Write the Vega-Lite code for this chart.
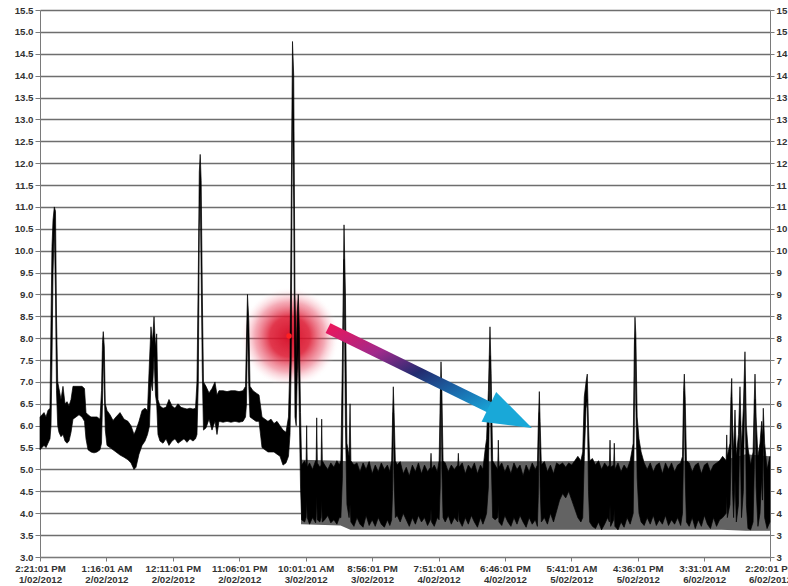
{
"$schema":"https://vega.github.io/schema/vega-lite/v6.json",
"width":730,"height":547,
"autosize":{"type":"none"},
"padding":{"left":40,"top":10,"right":18,"bottom":29},
"background":"white",
"config":{"view":{"stroke":null},"axis":{"labelFont":"Liberation Sans","labelFontSize":9.7,"labelFontWeight":"bold","labelColor":"#333333","domainColor":"#7a7a7a","tickColor":"#7a7a7a"}},
"datasets":{
"grey":[{"h":42.9,"glo":3.75,"ghi":5.22},{"h":49.4,"glo":3.72,"ghi":5.2},{"h":51.0,"glo":3.62,"ghi":5.18},{"h":112.0,"glo":3.62,"ghi":5.2},{"h":116.0,"glo":3.6,"ghi":5.35},{"h":119.98,"glo":3.6,"ghi":5.3}],
"band":[
{"h":0,"lo":5.45,"hi":6.2},{"h":0.33,"lo":5.5,"hi":6.25},{"h":0.66,"lo":5.55,"hi":6.3},{"h":0.99,"lo":5.5,"hi":6.2},{"h":1.31,"lo":5.6,"hi":6.35},{"h":1.64,"lo":5.7,"hi":6.4},{"h":1.81,"lo":6.0,"hi":8.4},{"h":1.97,"lo":7.5,"hi":10.1},{"h":2.14,"lo":9.5,"hi":10.7},{"h":2.35,"lo":10.5,"hi":11.0},{"h":2.55,"lo":9.0,"hi":10.9},{"h":2.71,"lo":6.8,"hi":8.5},{"h":2.91,"lo":6.0,"hi":7.0},
{"h":3.12,"lo":5.85,"hi":6.85},{"h":3.45,"lo":5.75,"hi":6.6},{"h":3.78,"lo":5.8,"hi":6.9},{"h":4.11,"lo":5.65,"hi":6.5},{"h":4.44,"lo":5.6,"hi":6.55},{"h":4.77,"lo":5.65,"hi":6.45},{"h":5.10,"lo":5.85,"hi":6.6},{"h":5.42,"lo":6.15,"hi":6.9},{"h":5.92,"lo":6.2,"hi":6.9},{"h":6.41,"lo":6.25,"hi":6.9},{"h":6.90,"lo":6.2,"hi":6.9},{"h":7.31,"lo":6.1,"hi":6.85},{"h":7.56,"lo":5.7,"hi":6.3},{"h":7.89,"lo":5.45,"hi":6.25},{"h":8.38,"lo":5.4,"hi":6.2},{"h":8.88,"lo":5.38,"hi":6.2},{"h":9.37,"lo":5.4,"hi":6.2},{"h":9.86,"lo":5.45,"hi":6.15},
{"h":10.11,"lo":5.6,"hi":6.8},{"h":10.27,"lo":6.5,"hi":7.9},{"h":10.40,"lo":7.7,"hi":8.15},{"h":10.57,"lo":6.8,"hi":7.8},{"h":10.73,"lo":5.9,"hi":6.5},
{"h":11.01,"lo":5.55,"hi":6.35},{"h":11.51,"lo":5.5,"hi":6.25},{"h":12.00,"lo":5.45,"hi":6.12},{"h":12.49,"lo":5.4,"hi":6.2},{"h":13.15,"lo":5.33,"hi":6.3},{"h":13.81,"lo":5.28,"hi":6.15},{"h":14.46,"lo":5.22,"hi":6.1},{"h":14.96,"lo":5.15,"hi":6.0},{"h":15.45,"lo":5.0,"hi":5.8},{"h":15.78,"lo":5.05,"hi":5.9},{"h":16.27,"lo":5.35,"hi":6.1},{"h":16.77,"lo":5.55,"hi":6.35},{"h":17.26,"lo":5.65,"hi":6.4},{"h":17.67,"lo":5.8,"hi":6.35},
{"h":18.00,"lo":6.0,"hi":7.5},{"h":18.24,"lo":7.0,"hi":8.26},{"h":18.49,"lo":6.8,"hi":7.9},{"h":18.74,"lo":7.6,"hi":8.49},{"h":18.98,"lo":6.7,"hi":7.8},{"h":19.18,"lo":6.5,"hi":8.1},{"h":19.39,"lo":5.8,"hi":6.6},
{"h":19.72,"lo":5.65,"hi":6.45},{"h":20.22,"lo":5.6,"hi":6.4},{"h":20.71,"lo":5.7,"hi":6.42},{"h":21.20,"lo":5.55,"hi":6.6},{"h":21.70,"lo":5.65,"hi":6.45},{"h":22.19,"lo":5.7,"hi":6.4},{"h":22.68,"lo":5.6,"hi":6.5},{"h":23.17,"lo":5.65,"hi":6.42},{"h":23.67,"lo":5.7,"hi":6.4},{"h":24.16,"lo":5.62,"hi":6.38},{"h":24.65,"lo":5.7,"hi":6.4},{"h":25.15,"lo":5.65,"hi":6.38},{"h":25.56,"lo":5.7,"hi":6.4},
{"h":25.80,"lo":5.8,"hi":7.0},{"h":26.02,"lo":7.0,"hi":9.5},{"h":26.18,"lo":10.5,"hi":11.8},{"h":26.33,"lo":11.4,"hi":12.2},{"h":26.49,"lo":9.5,"hi":11.6},{"h":26.68,"lo":7.2,"hi":9.0},{"h":26.87,"lo":5.9,"hi":7.0},
{"h":27.28,"lo":5.95,"hi":6.9},{"h":27.78,"lo":6.15,"hi":6.75},{"h":28.27,"lo":5.9,"hi":6.85},{"h":28.76,"lo":6.1,"hi":7.0},{"h":29.09,"lo":5.8,"hi":6.7},{"h":29.42,"lo":6.1,"hi":6.8},{"h":30.08,"lo":6.08,"hi":6.8},{"h":30.74,"lo":6.1,"hi":6.78},{"h":31.39,"lo":6.08,"hi":6.8},{"h":32.05,"lo":6.1,"hi":6.8},{"h":32.71,"lo":6.08,"hi":6.78},{"h":33.37,"lo":6.1,"hi":6.8},{"h":33.78,"lo":6.2,"hi":6.9},
{"h":33.94,"lo":6.5,"hi":8.0},{"h":34.10,"lo":8.3,"hi":9.0},{"h":34.32,"lo":6.9,"hi":8.4},{"h":34.52,"lo":6.2,"hi":6.9},
{"h":35.01,"lo":6.15,"hi":6.8},{"h":35.50,"lo":6.1,"hi":6.75},{"h":36.00,"lo":6.1,"hi":6.7},{"h":36.49,"lo":5.5,"hi":6.2},{"h":36.98,"lo":5.45,"hi":6.15},{"h":37.47,"lo":5.4,"hi":6.1},{"h":37.97,"lo":5.4,"hi":6.15},{"h":38.46,"lo":5.4,"hi":6.05},{"h":38.95,"lo":5.35,"hi":6.1},{"h":39.45,"lo":5.3,"hi":6.0},{"h":39.94,"lo":5.1,"hi":5.9},{"h":40.43,"lo":5.15,"hi":5.85},{"h":40.84,"lo":5.3,"hi":6.2},
{"h":41.09,"lo":5.8,"hi":7.5},{"h":41.29,"lo":7.5,"hi":11.0},{"h":41.50,"lo":13.5,"hi":14.78},{"h":41.70,"lo":11.0,"hi":14.0},{"h":41.91,"lo":6.2,"hi":9.0},{"h":42.11,"lo":6.0,"hi":7.5},{"h":42.29,"lo":7.2,"hi":8.6},{"h":42.45,"lo":7.8,"hi":9.0},{"h":42.62,"lo":6.3,"hi":8.2},{"h":42.82,"lo":4.6,"hi":6.3},
{"h":43.0,"lo":3.85,"hi":5.1},{"h":43.5,"lo":3.8,"hi":5.2},{"h":43.73,"lo":3.9,"hi":5.1},{"h":43.83,"lo":4.3,"hi":6.0},{"h":43.93,"lo":3.9,"hi":5.05},{"h":44.3,"lo":3.75,"hi":5.15},{"h":44.8,"lo":3.9,"hi":5.0},{"h":45.3,"lo":3.78,"hi":5.2},{"h":45.38,"lo":3.9,"hi":5.1},{"h":45.48,"lo":4.4,"hi":6.18},{"h":45.58,"lo":3.85,"hi":5.15},{"h":46.0,"lo":3.8,"hi":5.05},{"h":46.2,"lo":3.9,"hi":5.1},{"h":46.3,"lo":4.3,"hi":6.15},{"h":46.4,"lo":3.8,"hi":5.2},{"h":46.8,"lo":3.85,"hi":5.1},{"h":47.3,"lo":3.95,"hi":5.0},{"h":47.8,"lo":3.78,"hi":5.15},{"h":48.3,"lo":3.85,"hi":5.05},{"h":48.8,"lo":3.75,"hi":5.2},{"h":49.2,"lo":3.9,"hi":5.1},
{"h":49.45,"lo":3.9,"hi":5.2},{"h":49.7,"lo":4.8,"hi":7.5},{"h":49.97,"lo":9.8,"hi":10.59},{"h":50.2,"lo":6.0,"hi":9.0},{"h":50.45,"lo":4.2,"hi":5.6},{"h":50.8,"lo":3.9,"hi":5.3},{"h":50.96,"lo":4.2,"hi":6.5},{"h":51.1,"lo":3.8,"hi":5.2},
{"h":51.6,"lo":3.7,"hi":5.1},{"h":52.1,"lo":3.9,"hi":5.15},{"h":52.6,"lo":3.75,"hi":4.95},{"h":53.1,"lo":3.68,"hi":5.15},{"h":53.6,"lo":3.95,"hi":5.0},{"h":54.1,"lo":3.72,"hi":5.18},{"h":54.6,"lo":3.85,"hi":4.9},{"h":55.1,"lo":3.7,"hi":5.1},{"h":55.6,"lo":3.9,"hi":4.95},{"h":56.1,"lo":3.75,"hi":5.15},{"h":56.6,"lo":3.68,"hi":5.0},{"h":57.1,"lo":3.85,"hi":5.1},{"h":57.5,"lo":3.72,"hi":4.95},
{"h":57.8,"lo":3.85,"hi":5.2},{"h":57.95,"lo":4.5,"hi":6.2},{"h":58.07,"lo":6.3,"hi":6.89},{"h":58.2,"lo":4.8,"hi":6.3},{"h":58.4,"lo":3.9,"hi":5.2},
{"h":58.7,"lo":3.95,"hi":5.1},{"h":59.2,"lo":3.8,"hi":5.18},{"h":59.7,"lo":4.0,"hi":4.9},{"h":60.2,"lo":3.85,"hi":5.05},{"h":60.7,"lo":3.7,"hi":4.85},{"h":61.2,"lo":3.9,"hi":5.1},{"h":61.7,"lo":3.75,"hi":4.95},{"h":62.2,"lo":3.95,"hi":5.15},{"h":62.7,"lo":3.8,"hi":4.9},{"h":63.2,"lo":3.9,"hi":5.1},{"h":63.7,"lo":3.72,"hi":4.95},{"h":64.17,"lo":3.85,"hi":5.05},{"h":64.27,"lo":4.1,"hi":5.37},{"h":64.37,"lo":3.8,"hi":5.0},{"h":64.8,"lo":3.7,"hi":5.1},{"h":65.3,"lo":3.9,"hi":4.95},
{"h":65.6,"lo":3.85,"hi":5.2},{"h":65.78,"lo":4.6,"hi":6.6},{"h":65.91,"lo":6.9,"hi":7.46},{"h":66.05,"lo":5.0,"hi":6.8},{"h":66.25,"lo":3.9,"hi":5.2},
{"h":66.6,"lo":3.8,"hi":5.15},{"h":67.1,"lo":3.95,"hi":4.95},{"h":67.6,"lo":3.75,"hi":5.1},{"h":68.1,"lo":3.9,"hi":5.0},{"h":68.66,"lo":3.8,"hi":5.1},{"h":68.76,"lo":4.1,"hi":5.37},{"h":68.86,"lo":3.85,"hi":5.05},{"h":69.4,"lo":3.7,"hi":5.15},{"h":69.9,"lo":3.9,"hi":4.9},{"h":70.4,"lo":3.75,"hi":5.1},{"h":70.9,"lo":3.95,"hi":5.0},{"h":71.4,"lo":3.8,"hi":5.15},{"h":71.9,"lo":3.68,"hi":4.9},{"h":72.4,"lo":3.9,"hi":5.1},{"h":72.8,"lo":3.75,"hi":5.0},
{"h":73.2,"lo":3.9,"hi":5.5},{"h":73.4,"lo":4.0,"hi":5.7},{"h":73.7,"lo":4.6,"hi":6.8},{"h":73.96,"lo":7.6,"hi":8.26},{"h":74.15,"lo":5.3,"hi":7.2},{"h":74.4,"lo":3.9,"hi":5.2},
{"h":74.8,"lo":3.85,"hi":5.1},{"h":75.23,"lo":3.9,"hi":5.0},{"h":75.33,"lo":4.2,"hi":5.67},{"h":75.43,"lo":3.8,"hi":5.05},{"h":75.9,"lo":3.72,"hi":5.15},{"h":76.4,"lo":3.95,"hi":4.95},{"h":76.9,"lo":3.8,"hi":5.1},{"h":77.4,"lo":3.7,"hi":4.9},{"h":77.9,"lo":3.9,"hi":5.15},{"h":78.4,"lo":3.75,"hi":5.0},{"h":78.9,"lo":3.95,"hi":5.1},{"h":79.4,"lo":3.8,"hi":4.85},{"h":79.9,"lo":3.68,"hi":5.1},{"h":80.4,"lo":3.9,"hi":4.95},{"h":80.9,"lo":3.75,"hi":5.15},{"h":81.4,"lo":3.85,"hi":5.0},{"h":81.75,"lo":3.7,"hi":5.1},
{"h":81.9,"lo":4.4,"hi":6.0},{"h":82.07,"lo":6.3,"hi":6.78},{"h":82.2,"lo":4.6,"hi":6.1},{"h":82.4,"lo":3.8,"hi":5.1},
{"h":82.9,"lo":3.9,"hi":5.18},{"h":83.4,"lo":3.75,"hi":4.95},{"h":83.9,"lo":4.0,"hi":5.1},{"h":84.4,"lo":3.8,"hi":4.9},{"h":84.9,"lo":4.05,"hi":5.15},{"h":85.4,"lo":4.3,"hi":5.1},{"h":85.9,"lo":4.45,"hi":5.15},{"h":86.4,"lo":4.35,"hi":5.05},{"h":86.9,"lo":4.5,"hi":5.15},{"h":87.4,"lo":4.3,"hi":5.1},{"h":87.9,"lo":4.1,"hi":5.2},{"h":88.4,"lo":3.9,"hi":5.3},{"h":88.9,"lo":3.8,"hi":5.2},
{"h":89.2,"lo":3.9,"hi":5.4},{"h":89.46,"lo":5.3,"hi":6.66},{"h":89.75,"lo":6.4,"hi":7.0},{"h":89.95,"lo":6.6,"hi":7.18},{"h":90.15,"lo":4.5,"hi":6.0},{"h":90.35,"lo":3.8,"hi":5.2},
{"h":90.8,"lo":3.7,"hi":5.25},{"h":91.3,"lo":3.65,"hi":5.1},{"h":91.8,"lo":3.8,"hi":5.2},{"h":92.3,"lo":3.62,"hi":5.0},{"h":92.8,"lo":3.75,"hi":5.15},{"h":93.3,"lo":3.9,"hi":5.05},{"h":93.59,"lo":3.8,"hi":5.1},{"h":93.69,"lo":4.2,"hi":5.67},{"h":93.79,"lo":3.7,"hi":5.05},{"h":94.29,"lo":3.85,"hi":5.1},{"h":94.39,"lo":4.1,"hi":5.6},{"h":94.49,"lo":3.7,"hi":5.0},{"h":95.0,"lo":3.62,"hi":5.15},{"h":95.5,"lo":3.8,"hi":4.95},{"h":96.0,"lo":3.68,"hi":5.1},{"h":96.5,"lo":3.9,"hi":5.0},{"h":97.0,"lo":3.75,"hi":5.2},
{"h":97.5,"lo":4.0,"hi":5.6},{"h":97.68,"lo":6.0,"hi":7.8},{"h":97.79,"lo":8.0,"hi":8.48},{"h":97.93,"lo":6.5,"hi":8.1},{"h":98.15,"lo":4.8,"hi":6.2},{"h":98.45,"lo":4.0,"hi":5.7},{"h":98.8,"lo":3.8,"hi":5.4},
{"h":99.3,"lo":3.72,"hi":5.15},{"h":99.8,"lo":3.9,"hi":5.0},{"h":100.3,"lo":3.75,"hi":5.15},{"h":100.8,"lo":3.95,"hi":4.95},{"h":101.3,"lo":3.72,"hi":5.1},{"h":101.8,"lo":3.85,"hi":5.15},{"h":102.3,"lo":3.75,"hi":4.9},{"h":102.8,"lo":3.95,"hi":5.15},{"h":103.3,"lo":3.72,"hi":5.0},{"h":103.8,"lo":3.85,"hi":5.15},{"h":104.3,"lo":3.75,"hi":4.95},{"h":104.8,"lo":3.9,"hi":5.1},{"h":105.3,"lo":3.72,"hi":5.15},
{"h":105.6,"lo":4.0,"hi":5.3},{"h":105.78,"lo":5.5,"hi":6.8},{"h":105.9,"lo":6.6,"hi":7.18},{"h":106.05,"lo":4.8,"hi":6.6},{"h":106.25,"lo":3.8,"hi":5.2},
{"h":106.7,"lo":3.7,"hi":5.15},{"h":107.2,"lo":3.9,"hi":4.95},{"h":107.7,"lo":3.65,"hi":5.1},{"h":108.2,"lo":3.85,"hi":5.15},{"h":108.7,"lo":3.7,"hi":4.9},{"h":109.2,"lo":3.95,"hi":5.1},{"h":109.7,"lo":3.75,"hi":5.15},{"h":110.2,"lo":3.65,"hi":4.95},{"h":110.7,"lo":3.9,"hi":5.1},{"h":111.2,"lo":3.7,"hi":5.15},{"h":111.7,"lo":3.85,"hi":5.2},{"h":112.2,"lo":3.9,"hi":5.3},
{"h":112.77,"lo":4.0,"hi":5.2},{"h":112.87,"lo":4.4,"hi":5.79},{"h":112.97,"lo":3.9,"hi":5.3},{"h":113.4,"lo":4.2,"hi":5.6},{"h":113.55,"lo":5.0,"hi":6.6},{"h":113.69,"lo":6.5,"hi":7.08},{"h":113.83,"lo":4.5,"hi":6.0},{"h":114.0,"lo":3.9,"hi":5.4},{"h":114.23,"lo":4.8,"hi":6.36},{"h":114.45,"lo":3.8,"hi":5.3},{"h":114.8,"lo":4.2,"hi":5.8},{"h":115.05,"lo":6.1,"hi":6.89},{"h":115.3,"lo":3.9,"hi":5.5},{"h":115.6,"lo":4.5,"hi":6.4},{"h":115.87,"lo":7.0,"hi":7.69},{"h":116.1,"lo":4.2,"hi":6.0},{"h":116.36,"lo":3.65,"hi":5.5},{"h":116.8,"lo":3.62,"hi":5.1},{"h":117.2,"lo":3.8,"hi":5.4},{"h":117.4,"lo":5.0,"hi":6.6},{"h":117.52,"lo":6.6,"hi":7.18},{"h":117.7,"lo":4.6,"hi":6.2},{"h":118.0,"lo":3.7,"hi":5.3},{"h":118.34,"lo":4.0,"hi":5.6},{"h":118.61,"lo":4.8,"hi":6.1},{"h":118.75,"lo":4.3,"hi":5.7},{"h":118.88,"lo":5.8,"hi":6.4},{"h":119.1,"lo":3.9,"hi":5.6},{"h":119.5,"lo":3.65,"hi":5.0},{"h":119.98,"lo":3.8,"hi":5.3}
],
"glow":[{"h":41.06,"v":8.03}],
"dot":[{"h":40.93,"v":8.05}],
"shaft":[{"h":47.34,"v":8.23,"h2":74.29,"v2":6.39}],
"head":[{"h":77.32,"v":6.19}]
},
"resolve":{"axis":{"y":"independent"}},
"layer":[
{"data":{"name":"grey"},"mark":{"type":"area","color":"#636363"},
 "encoding":{
  "x":{"field":"h","type":"quantitative","title":null,"scale":{"domain":[0,119.983],"nice":false,"zero":false},
   "axis":{"values":[0,10.9167,21.8333,32.75,43.6667,54.5833,65.5,76.4167,87.3333,98.25,109.1667,119.983],"grid":false,"tickSize":4,"labelPadding":2,"labelLineHeight":11,"labelOverlap":false,"labelFlush":false,"labelBound":false,
    "labelExpr":"[['2:21:01 PM','1/02/2012'],['1:16:01 AM','2/02/2012'],['12:11:01 PM','2/02/2012'],['11:06:01 PM','2/02/2012'],['10:01:01 AM','3/02/2012'],['8:56:01 PM','3/02/2012'],['7:51:01 AM','4/02/2012'],['6:46:01 PM','4/02/2012'],['5:41:01 AM','5/02/2012'],['4:36:01 PM','5/02/2012'],['3:31:01 AM','6/02/2012'],['2:20:01 PM','6/02/2012']][round(datum.value/10.9167)]"}},
  "y":{"field":"ghi","type":"quantitative","title":null,"scale":{"domain":[3,15.5],"nice":false,"zero":false},
   "axis":{"orient":"right","values":[3,3.5,4,4.5,5,5.5,6,6.5,7,7.5,8,8.5,9,9.5,10,10.5,11,11.5,12,12.5,13,13.5,14,14.5,15,15.5],"labelExpr":"floor(datum.value)","grid":false,"tickSize":4,"labelPadding":2,"labelOverlap":false,"labelFlush":false,"labelBound":false}},
  "y2":{"field":"glo"}}},
{"data":{"name":"glow"},"mark":{"type":"point","shape":"circle","filled":true,"size":10000,"opacity":1,"strokeWidth":0,
  "fill":{"gradient":"radial","x1":0.5,"y1":0.5,"r1":0,"x2":0.5,"y2":0.5,"r2":0.5,"stops":[{"offset":0,"color":"rgba(212,8,35,0.95)"},{"offset":0.4,"color":"rgba(220,20,45,0.85)"},{"offset":0.7,"color":"rgba(232,70,95,0.45)"},{"offset":0.88,"color":"rgba(245,150,165,0.15)"},{"offset":1,"color":"rgba(255,255,255,0)"}]}},
 "encoding":{"x":{"field":"h","type":"quantitative","title":null},"y":{"field":"v","type":"quantitative","title":null,"axis":null}}},
{"data":{"name":"band"},"mark":{"type":"area","color":"#000000","stroke":"#000000","strokeWidth":0.7},
 "encoding":{
  "x":{"field":"h","type":"quantitative","title":null},
  "y":{"field":"hi","type":"quantitative","title":null,
   "axis":{"orient":"left","values":[3,3.5,4,4.5,5,5.5,6,6.5,7,7.5,8,8.5,9,9.5,10,10.5,11,11.5,12,12.5,13,13.5,14,14.5,15,15.5],"format":".1f","grid":true,"gridColor":"#6e6e6e","gridWidth":1.3,"tickSize":5,"labelPadding":2,"labelOverlap":false,"labelFlush":false,"labelBound":false}},
  "y2":{"field":"lo"}}},
{"data":{"name":"dot"},"mark":{"type":"point","shape":"circle","filled":true,"size":30,"color":"#ff2020","opacity":1},
 "encoding":{"x":{"field":"h","type":"quantitative","title":null},"y":{"field":"v","type":"quantitative","title":null,"axis":null}}},
{"data":{"name":"shaft"},"mark":{"type":"rule","strokeWidth":11,"strokeCap":"butt",
  "stroke":{"gradient":"linear","x1":0,"y1":0,"x2":1,"y2":1,"stops":[{"offset":0,"color":"#e8175d"},{"offset":0.3,"color":"#a02a8c"},{"offset":0.55,"color":"#222c70"},{"offset":0.8,"color":"#1a6fb0"},{"offset":1,"color":"#19a3d6"}]}},
 "encoding":{"x":{"field":"h","type":"quantitative","title":null},"y":{"field":"v","type":"quantitative","title":null,"axis":null},"x2":{"field":"h2"},"y2":{"field":"v2"}}},
{"data":{"name":"head"},"mark":{"type":"point","shape":"M 1 0 L -1 -0.69 L -1 0.69 Z","filled":true,"size":2304,"angle":26.1,"color":"#19a8d8","opacity":1,"strokeWidth":0},
 "encoding":{"x":{"field":"h","type":"quantitative","title":null},"y":{"field":"v","type":"quantitative","title":null,"axis":null}}}
]
}
